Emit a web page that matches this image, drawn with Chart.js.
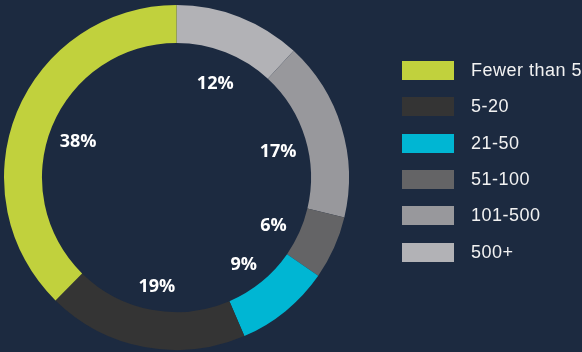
<!DOCTYPE html>
<html>
<head>
<meta charset="utf-8">
<script src="https://cdn.jsdelivr.net/npm/chart.js@4.4.1/dist/chart.umd.min.js"></script>
<style>
  html, body { margin:0; padding:0; width:582px; height:352px; overflow:hidden; background:#1c2a40; }
  #wrap { position:relative; width:582px; height:352px; }
  #c { position:absolute; left:0; top:0; }
  .item { position:absolute; left:402px; height:19px; display:flex; align-items:center; white-space:nowrap; }
  .box { width:52px; height:19px; flex:none; }
  .txt { margin-left:17px; font-family:'Liberation Sans', Arial, sans-serif; font-size:18px; letter-spacing:0.5px; color:#f2f2f2; }
</style>
</head>
<body>
<div id="wrap">
  <canvas id="c" width="582" height="352"></canvas>
  <div id="legend"></div>
</div>
<script>
// Legend order (top to bottom)
const categories = ['Fewer than 5', '5-20', '21-50', '51-100', '101-500', '500+'];
const percentages = [38, 19, 9, 6, 17, 12];
const colors = ['#c1d13d', '#343434', '#00b6d3', '#646466', '#98989c', '#b2b2b6'];

// Doughnut is drawn clockwise from the top starting with the last category
const chartLabels = categories.slice().reverse();
const chartValues = percentages.slice().reverse();
const chartColors = colors.slice().reverse();

const pctLabels = {
  id: 'pctLabels',
  afterDatasetsDraw(chart) {
    const ctx = chart.ctx;
    const meta = chart.getDatasetMeta(0);
    ctx.save();
    ctx.fillStyle = '#ffffff';
    ctx.font = "700 18px 'Open Sans', Lato, sans-serif";
    ctx.textAlign = 'center';
    ctx.textBaseline = 'middle';
    meta.data.forEach((arc, i) => {
      const p = arc.getProps(['x', 'y', 'startAngle', 'endAngle', 'innerRadius'], true);
      const mid = (p.startAngle + p.endAngle) / 2;
      const r = p.innerRadius * 0.79;
      ctx.fillText(chartValues[i] + '%', p.x + Math.cos(mid) * r, p.y + Math.sin(mid) * r + 5);
    });
    ctx.restore();
  }
};

new Chart(document.getElementById('c'), {
  type: 'doughnut',
  data: {
    labels: chartLabels,
    datasets: [{
      data: chartValues,
      backgroundColor: chartColors,
      borderWidth: 0
    }]
  },
  options: {
    responsive: false,
    animation: false,
    cutout: '78%',
    layout: { padding: { left: 4, right: 233, top: 5, bottom: 2 } },
    plugins: {
      legend: { display: false },
      tooltip: { enabled: false }
    }
  },
  plugins: [pctLabels]
});

const legend = document.getElementById('legend');
categories.forEach((name, i) => {
  const item = document.createElement('div');
  item.className = 'item';
  item.style.top = (61 + i * 36.3) + 'px';
  const box = document.createElement('div');
  box.className = 'box';
  box.style.background = colors[i];
  const txt = document.createElement('span');
  txt.className = 'txt';
  txt.textContent = name;
  item.appendChild(box);
  item.appendChild(txt);
  legend.appendChild(item);
});
</script>
</body>
</html>
